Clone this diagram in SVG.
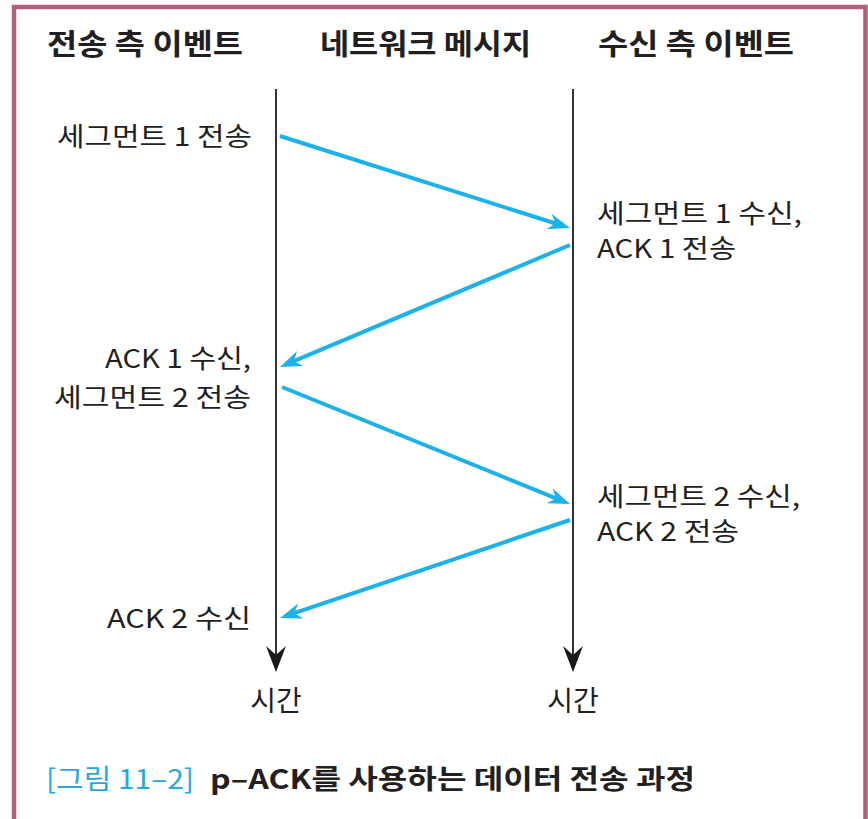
<svg xmlns="http://www.w3.org/2000/svg" width="868" height="819" viewBox="0 0 868 819">
<style>
text{font-family:"Noto Sans CJK KR","Noto Sans",sans-serif;fill:#231f20}
.h{font-size:29px;font-weight:700}
.t{font-size:26px}
.end{text-anchor:end}
.cap{font-size:27px;font-weight:700}
.blue{stroke:#1bb1e9;stroke-width:4;fill:none}
.tl{stroke:#333;stroke-width:2;fill:none}
</style>
<defs>
<marker id="ah" markerUnits="userSpaceOnUse" markerWidth="22" markerHeight="16" refX="7" refY="8" orient="auto" viewBox="0 0 22 16">
<path d="M0,0 L22,8 L0,16 L7,8 Z" fill="#1bb1e9"/>
</marker>
</defs>
<rect width="868" height="819" fill="#fff"/>
<path d="M14,830 V7 H865.5 V830" fill="none" stroke="#b0607a" stroke-width="4.5"/>

<g id="headings">
<text class="h" x="47" y="55" textLength="196" lengthAdjust="spacingAndGlyphs">전송 측 이벤트</text>
<text class="h" x="320" y="55" textLength="211" lengthAdjust="spacingAndGlyphs">네트워크 메시지</text>
<text class="h" x="598" y="55" textLength="196" lengthAdjust="spacingAndGlyphs">수신 측 이벤트</text>
</g>

<g id="sender-timeline">
<line class="tl" x1="276" y1="89" x2="276" y2="660"/>
<path d="M276,672 L266,646 L276,655 L286,646 Z" fill="#1a1a1a"/>
<text class="t" x="276" y="711" text-anchor="middle" style="font-size:28px">시간</text>
</g>
<g id="receiver-timeline">
<line class="tl" x1="573" y1="89" x2="573" y2="660"/>
<path d="M573,672 L563,646 L573,655 L583,646 Z" fill="#1a1a1a"/>
<text class="t" x="573" y="711" text-anchor="middle" style="font-size:28px">시간</text>
</g>

<g id="sender-events">
<text class="t end" x="252" y="146" textLength="195" lengthAdjust="spacingAndGlyphs">세그먼트 1 전송</text>
<text class="t end" x="251" y="368" textLength="146" lengthAdjust="spacingAndGlyphs">ACK 1 수신,</text>
<text class="t end" x="251" y="407" textLength="197" lengthAdjust="spacingAndGlyphs">세그먼트 2 전송</text>
<text class="t end" x="251" y="628" textLength="144" lengthAdjust="spacingAndGlyphs">ACK 2 수신</text>
</g>

<g id="receiver-events">
<text class="t" x="597" y="223" textLength="205" lengthAdjust="spacingAndGlyphs">세그먼트 1 수신,</text>
<text class="t" x="597" y="258" textLength="139" lengthAdjust="spacingAndGlyphs">ACK 1 전송</text>
<text class="t" x="597" y="506" textLength="203" lengthAdjust="spacingAndGlyphs">세그먼트 2 수신,</text>
<text class="t" x="597" y="541" textLength="142" lengthAdjust="spacingAndGlyphs">ACK 2 전송</text>
</g>

<g id="connectors">
<line class="blue" x1="280" y1="136" x2="555.7" y2="223.5" marker-end="url(#ah)"/>
<line class="blue" x1="570" y1="245" x2="293.8" y2="361.2" marker-end="url(#ah)"/>
<line class="blue" x1="282" y1="387" x2="556.1" y2="498.4" marker-end="url(#ah)"/>
<line class="blue" x1="570" y1="520" x2="294.2" y2="613.2" marker-end="url(#ah)"/>
</g>

<g id="caption">
<text class="cap" x="46" y="789" style="fill:#29a8e0;font-weight:400" textLength="148" lengthAdjust="spacingAndGlyphs">[그림 11–2]</text>
<text class="cap" x="210" y="789" textLength="485" lengthAdjust="spacingAndGlyphs">p–ACK를 사용하는 데이터 전송 과정</text>
</g>
</svg>
